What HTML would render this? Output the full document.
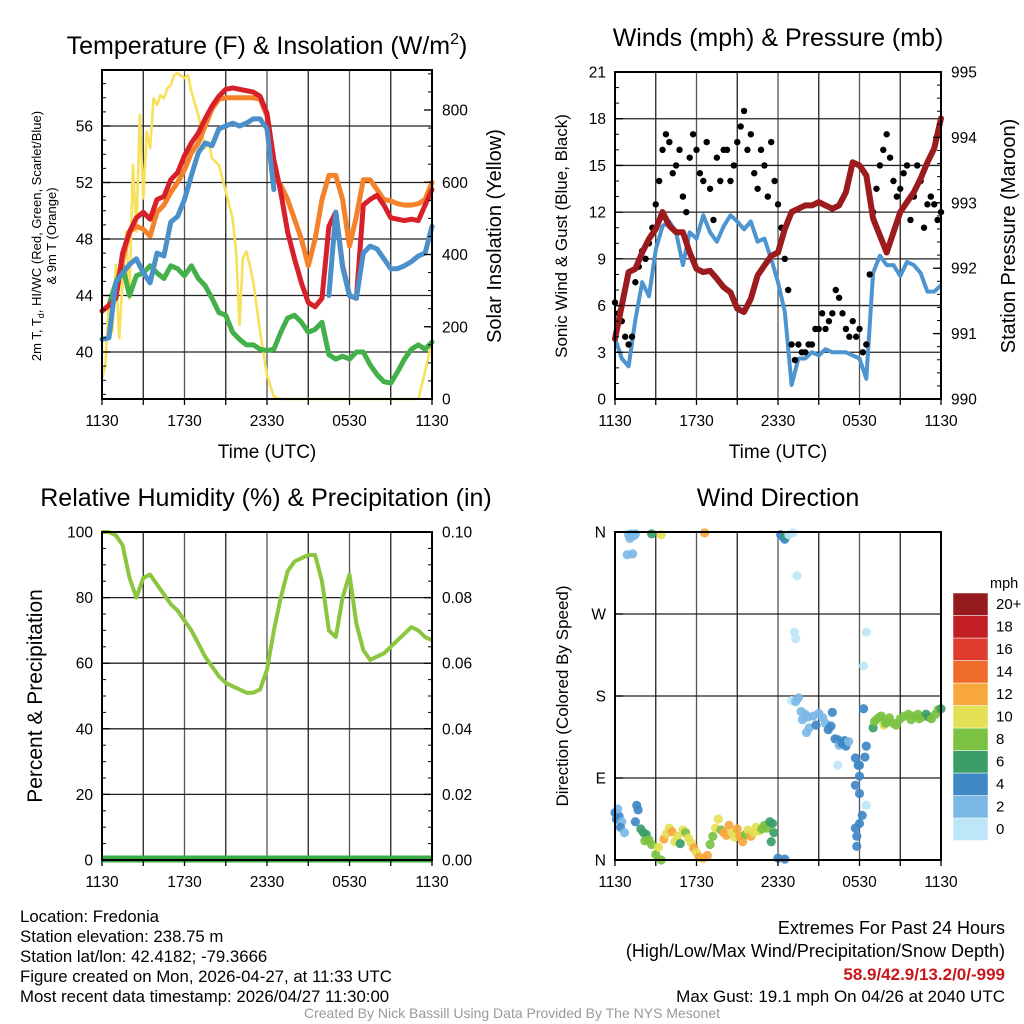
<!DOCTYPE html>
<html><head><meta charset="utf-8">
<style>
html,body{margin:0;padding:0;background:#fff;}
svg{display:block;font-family:"Liberation Sans",sans-serif;}
</style></head>
<body>
<svg id="chart" width="1024" height="1024" viewBox="0 0 1024 1024" xmlns="http://www.w3.org/2000/svg"></svg>
<script>
// ---------- DATA ----------
const timeLabels = ["1130","1730","2330","0530","1130"];
const tempRed = [42.9,43.3,43.8,47,48.5,49.5,49.9,49.4,50.8,51,52.2,52.7,53.9,54.8,55.5,56.5,57.4,58.1,58.6,58.7,58.6,58.5,58.4,58.1,56.9,53.6,51.3,48.5,46.6,44.9,43.5,43.2,43.8,48.9,49.9,46.1,44,43.8,50.4,50.8,51.1,50.4,49.5,49.4,49.3,49.4,49.3,50.4,51.5];
const tempOrange = [42.9,43.3,43.8,46.5,48.5,48.9,48.7,48.2,49.9,50.4,51.3,52,52.9,54.1,54.8,56,57.2,57.9,58,58,58,58,58,57.9,56.7,52.5,51.8,50.8,49.4,48,46.1,48,50.8,52.5,52.5,50.8,47.5,49.6,52.2,52.2,51.5,50.8,50.7,50.5,50.4,50.4,50.5,50.8,52];
const tempBlue = [40.9,41,44.9,45.6,46.2,46.6,45.6,44.9,47,46.8,49.2,49.6,50.8,52.5,54.1,54.8,54.6,55.8,56,56.2,56,56.2,56.5,56.5,55.8,51.5,null,null,null,null,null,null,null,44,49.9,46,44,43.8,47,47.5,47.3,46.6,45.9,45.9,46.1,46.4,46.8,47,48.9];
const tempGreen = [42.9,43.3,44.9,46.1,44,45.4,45.6,46.1,45.6,45.2,46.1,45.9,45.4,46.1,45.2,44.7,43.8,42.8,42.6,41.4,40.9,40.5,40.5,40.2,40.1,40.2,41.4,42.4,42.6,42.1,41.4,41.6,42.1,39.8,39.5,39.7,39.5,40,40,39.1,38.4,37.9,37.8,38.6,39.5,40.2,40.5,40.2,40.7];
const insolTimes = [0,0.25,0.5,0.75,1,1.25,1.5,1.75,2,2.25,2.5,2.75,3,3.25,3.5,3.75,4,4.25,4.5,4.75,5,5.25,5.5,6,6.25,6.5,7,7.25,7.5,7.75,8,8.5,9,9.5,9.75,10,10.25,10.5,10.75,11,11.5,12,12.5,13,23,23.5,24];
const insolation = [57,94,277,185,371,168,325,463,277,648,463,786,555,740,694,832,814,841,832,860,869,897,902,888,897,851,786,740,694,712,666,648,574,500,408,205,390,408,371,324,186,66,6,0,0,76,159];
const windSpeed = [3.9,2.6,2.1,5.1,7.5,6.6,9.6,11.1,11.4,10.7,8.6,10.7,10.3,11.8,10.7,10.1,11.1,11.8,11.4,10.9,11.4,10.1,10.3,9.0,7.5,5.6,0.9,2.6,2.6,3.0,2.8,3.2,3.0,3.0,3.0,2.8,2.6,1.3,8.1,9.2,8.6,8.6,7.9,8.8,8.6,8.1,6.9,6.9,7.3];
const pressure = [990.92,991.43,991.94,991.99,992.24,992.45,992.6,992.86,992.65,992.55,992.55,992.24,991.99,991.94,991.96,991.84,991.71,991.63,991.38,991.33,991.53,991.89,992.04,992.19,992.24,992.6,992.86,992.91,992.96,992.96,993.01,992.96,992.91,992.96,993.16,993.62,993.57,993.42,992.76,992.5,992.24,992.55,992.86,993.01,993.16,993.37,993.62,993.83,994.29];
const gustTimes = [0,0.25,0.5,0.75,1,1.25,1.5,1.75,2,2.25,2.5,2.75,3,3.25,3.5,3.75,4,4.25,4.5,4.75,5,5.25,5.5,5.75,6,6.25,6.5,6.75,7,7.25,7.5,7.75,8,8.25,8.5,8.75,9,9.25,9.5,9.75,10,10.25,10.5,10.75,11,11.25,11.5,11.75,12,12.25,12.5,12.75,13,13.25,13.5,13.75,14,14.25,14.5,14.75,15,15.25,15.5,15.75,16,16.25,16.5,16.75,17,17.25,17.5,17.75,18,18.25,18.5,18.75,19,19.25,19.5,19.75,20,20.25,20.5,20.75,21,21.25,21.5,21.75,22,22.25,22.5,22.75,23,23.25,23.5,23.75,24];
const gusts = [6.2,5.5,5,4,3.5,4,7.5,8.5,9.5,9,10,11,12.5,14,16,17,16.5,14.5,15,16,13,12,15.5,17,16,14.5,14,16.5,13.5,11.5,15.5,14,16,16,14,15,16.5,17.5,18.5,16,17,14.5,13.5,16,15,13,16.5,14,12.5,11,9,7,3.5,2.5,3.5,3,3,3.5,3.5,4.5,4.5,5.5,4.5,5,5.5,7,6.5,5.5,4.5,4,5,4,4.5,3,3.5,8,12,13.5,15,16,17,15.5,14,13,13.5,14.5,15,11.5,13,15,14,11,12.5,13,12.5,11.5,12];
const rh = [100,100,99,96,86,80,86,87,84,81,78,76,73,70,66,62,59,56,54,53,52,51,51,52,58,70,80,88,91,92,93,93,85,70,68,80,87,72,64,61,62,63,65,67,69,71,70,68,67];
const dirTimes = [0,0.1,0.3,0.5,0.4,0.7,0.2,1.6,1.7,1.5,1.0,1.2,1.4,1.1,0.9,1.3,1.5,2.7,3.4,6.6,1.9,2.1,2.3,2.2,2.5,2.7,3.0,3.2,3.4,3.6,3.8,4.0,4.2,4.4,4.6,4.8,5.0,5.2,5.4,5.6,5.8,6.0,6.2,6.5,6.8,7.0,7.2,7.4,7.6,7.8,8.0,8.2,8.4,8.6,8.8,9.0,9.2,9.4,9.6,9.8,10.0,10.2,10.4,10.6,10.8,11.0,11.2,11.4,11.6,11.7,11.5,12.0,12.5,12.2,12.4,12.5,12.6,12.8,13.1,13.4,13.2,13.3,13.0,13.3,13.5,13.7,13.8,14.0,14.2,14.3,14.1,14.6,14.8,15.0,15.3,15.5,15.7,16.0,15.9,16.2,16.4,16.5,16.7,16.9,17.0,16.4,17.2,17.9,17.7,18.0,18.0,17.7,18.0,18.2,18.0,17.7,17.8,17.8,18.5,18.5,18.3,18.3,18.5,18.4,19.0,19.1,19.3,19.5,19.8,19.9,20.2,20.5,20.7,21.0,21.3,21.6,22.0,22.3,22.6,22.9,23.1,23.3,23.6,23.8,24.0,22.4,21.8,20.0,19.6];
const dirDeg = [52,45,48,42,36,30,56,60,55,42,357,358,356,353,335,336,358,358,357,359,34,30,28,21,22,17,6,14,0,23,29,35,31,20,26,18,33,30,24,19,13,8,3,2,5,17,26,35,45,33,30,27,38,30,25,34,26,20,28,33,26,30,36,32,34,38,35,42,40,30,20,2,1,357,354,352,356,357,359,312,250,243,175,174,178,163,154,160,157,145,140,158,148,161,156,150,143,162,147,133,132,126,128,131,125,104,130,104,112,104,92,82,73,49,40,35,26,15,60,250,213,166,125,113,145,152,155,157,148,150,156,150,148,155,158,160,158,160,157,160,157,155,160,165,166,155,154,151,158];
const dirSpeed = [4,4,4,3,4,2,3,4,4,4,2,2,2,2,2,2,2,7,10,12,6,6,7,8,8,8,9,10,9,12,11,10,12,10,11,7,10,8,10,10,12,10,12,13,12,8,9,10,10,8,12,12,12,11,10,12,12,12,9,10,12,10,10,10,9,8,9,7,6,6,6,4,4,4,4,5,6,1,1,1,1,1,1,2,3,3,3,3,3,2,2,3,4,3,3,3,4,5,5,4,5,3,4,4,5,1,3,4,4,4,4,4,4,4,4,4,4,4,1,1,1,4,5,5,6,8,8,8,10,8,8,8,8,8,8,8,8,8,8,7,7,8,8,8,7,8,8,8,8];
const speedColors = ["#bde6f8","#7bb8e6","#3f88c6","#3b9e68","#7cc242","#e4e055","#f7a73c","#ef6b2c","#e03b2f","#c21e24","#951a1d"];
const speedLabels = ["0","2","4","6","8","10","12","14","16","18","20+"];

// ---------- HELPERS ----------
const NS="http://www.w3.org/2000/svg";
const svg=document.getElementById('chart');
const TICKFS=15.5;
function el(tag,attrs,parent){const e=document.createElementNS(NS,tag);for(const k in attrs)e.setAttribute(k,attrs[k]);(parent||svg).appendChild(e);return e;}
function txt(x,y,s,size,anchor,parent,extra){const t=el('text',Object.assign({x:x,y:y,'font-size':size,'text-anchor':anchor||'middle',fill:'#000'},extra||{}),parent);t.textContent=s;return t;}
function lin(d0,d1,r0,r1){return v=>r0+(v-d0)*(r1-r0)/(d1-d0);}
function pathD(xs,ys,fx,fy){let d='',pen=false;for(let i=0;i<xs.length;i++){if(ys[i]==null){pen=false;continue;}d+=(pen?'L':'M')+fx(xs[i]).toFixed(1)+','+fy(ys[i]).toFixed(1);pen=true;}return d;}
const half=rh.map((_,i)=>i*0.5);

function frame(p){
  const g=el('g',{});
  
  
  for(let h=3;h<24;h+=3){const x=p.fx(h);const l=el('line',{x1:x,x2:x,y1:p.y0,y2:p.y1,stroke:(h%6==0)?'#555':'#222','stroke-width':1.3},g);
    
    }
  p.hgrid.forEach(v=>{const y=p.fy(v);const l=el('line',{x1:p.x0,x2:p.x1,y1:y,y2:y,stroke:'#222','stroke-width':1.3},g);
    
    });
  return g;
}
function border(p){const r=el('rect',{x:p.x0,y:p.y1,width:p.x1-p.x0,height:p.y0-p.y1,fill:'none',stroke:'#000','stroke-width':2});
  
  
  for(let h=0;h<=24;h+=3){const x=p.fx(h);el('line',{x1:x,x2:x,y1:p.y0,y2:p.y0+6,stroke:'#000','stroke-width':1.3});}
  timeLabels.forEach((s,i)=>{const t=txt(p.fx(i*6),p.y0+27,s,TICKFS,'middle');
    
    });
}
function yTicks(p,vals,labels,minor,side,fy){
  const x=side=='L'?p.x0:p.x1, dir=side=='L'?1:-1;
  minor.forEach(v=>{const y=fy(v);el('line',{x1:x,x2:x+dir*4,y1:y,y2:y,stroke:'#000','stroke-width':1});});
  vals.forEach((v,i)=>{const y=fy(v);el('line',{x1:x,x2:x+dir*8,y1:y,y2:y,stroke:'#000','stroke-width':1.3});
    const t=txt(side=='L'?x-9:x+10,y+5.5,labels[i],TICKFS,side=='L'?'end':'start');
    
    });
}
function rng(a,b,s){const r=[];for(let v=a;v<=b+1e-9;v+=s)r.push(+v.toFixed(4));return r;}

// ---------- PANEL 1 ----------
const p1={name:'temperature-panel',x0:102,x1:432,y0:399,y1:70};
p1.fx=lin(0,24,p1.x0,p1.x1);p1.fy=lin(40,56,352,126);p1.hgrid=[40,44,48,52,56];
const fyIns=lin(0,800,399,110);
frame(p1);
[[insolTimes,insolation,'#f7e05a',2.6,'insolation-line',fyIns],[half,tempGreen,'#43b04a',5,'dewpoint-line',p1.fy],[half,tempOrange,'#f4822b',5,'temp-9m-line',p1.fy],[half,tempRed,'#d7202a',5,'temp-2m-line',p1.fy],[half,tempBlue,'#4a90cb',5,'heat-index-windchill-line',p1.fy]].forEach(s=>{
  const pth=el('path',{d:pathD(s[0],s[1],p1.fx,s[5]),fill:'none',stroke:s[2],'stroke-width':s[3],'stroke-linejoin':'round','stroke-linecap':'round'});
  
  
});
border(p1);
yTicks(p1,[40,44,48,52,56],['40','44','48','52','56'],rng(37,59,1),'L',p1.fy);
yTicks(p1,[0,200,400,600,800],['0','200','400','600','800'],rng(0,900,50),'R',fyIns);
(function(){const t=el('text',{x:267,y:54,'font-size':25,'text-anchor':'middle'});t.innerHTML='Temperature (F) &amp; Insolation (W/m<tspan dy="-10" font-size="16">2</tspan><tspan dy="10">)</tspan>';

})();
(function(){let t=txt(267,458,'Time (UTC)',19,'middle');
t=el('text',{x:0,y:0,'font-size':13,'text-anchor':'middle',transform:'translate(41,236) rotate(-90)'});t.innerHTML='2m T, T<tspan dy="3" font-size="9">d</tspan><tspan dy="-3">, HI/WC (Red, Green, Scarlet/Blue)</tspan>';

t=txt(0,0,'& 9m T (Orange)',13,'middle',null,{transform:'translate(56,236) rotate(-90)'});
t=txt(0,0,'Solar Insolation (Yellow)',20,'middle',null,{transform:'translate(501,236) rotate(-90)'});})();

// ---------- PANEL 2 ----------
const p2={name:'winds-panel',x0:615,x1:941,y0:399,y1:72};
p2.fx=lin(0,24,p2.x0,p2.x1);p2.fy=lin(0,21,399,72);p2.hgrid=[3,6,9,12,15,18];
const fyP=lin(990,995,399,72);
frame(p2);
(function(){const pth=el('path',{d:pathD(half,windSpeed,p2.fx,p2.fy),fill:'none',stroke:'#4d95d0','stroke-width':4,'stroke-linejoin':'round'});

const gg=el('g',{});
gusts.forEach((v,i)=>{const c=el('circle',{cx:p2.fx(gustTimes[i]),cy:p2.fy(v),r:3.2,fill:'#000'},gg);
  
  });
const pp=el('path',{d:pathD(half,pressure,p2.fx,fyP),fill:'none',stroke:'#9b1b1e','stroke-width':6,'stroke-linejoin':'round','stroke-linecap':'round'});
})();
border(p2);
yTicks(p2,[0,3,6,9,12,15,18,21],['0','3','6','9','12','15','18','21'],rng(0,21,1),'L',p2.fy);
yTicks(p2,[990,991,992,993,994,995],['990','991','992','993','994','995'],rng(990,995,0.2),'R',fyP);
(function(){let t=txt(778,46,'Winds (mph) & Pressure (mb)',25,'middle');
t=txt(778,458,'Time (UTC)',19,'middle');
t=txt(0,0,'Sonic Wind & Gust (Blue, Black)',17,'middle',null,{transform:'translate(567,236) rotate(-90)'});
t=txt(0,0,'Station Pressure (Maroon)',20,'middle',null,{transform:'translate(1015,236) rotate(-90)'});})();

// ---------- PANEL 3 ----------
const p3={name:'humidity-panel',x0:102,x1:432,y0:860,y1:532};
p3.fx=lin(0,24,p3.x0,p3.x1);p3.fy=lin(0,100,860,532);p3.hgrid=[20,40,60,80];
frame(p3);
(function(){const pth=el('path',{d:pathD(half,rh,p3.fx,p3.fy),fill:'none',stroke:'#8cc63f','stroke-width':4,'stroke-linejoin':'round'});

const pr=el('line',{x1:p3.x0,x2:p3.x1,y1:859,y2:859,stroke:'#3aaa48','stroke-width':7});
})();
border(p3);
const fyPr=lin(0,0.1,860,532);
yTicks(p3,[0,20,40,60,80,100],['0','20','40','60','80','100'],rng(0,100,5),'L',p3.fy);
yTicks(p3,[0,0.02,0.04,0.06,0.08,0.1],['0.00','0.02','0.04','0.06','0.08','0.10'],rng(0,0.1,0.005),'R',fyPr);
(function(){let t=txt(266,506,'Relative Humidity (%) & Precipitation (in)',25,'middle');
t=txt(0,0,'Percent & Precipitation',21,'middle',null,{transform:'translate(42,696) rotate(-90)'});})();

// ---------- PANEL 4 ----------
const p4={name:'wind-direction-panel',x0:615,x1:941,y0:860,y1:532};
p4.fx=lin(0,24,p4.x0,p4.x1);p4.fy=lin(0,360,860,532);p4.hgrid=[90,180,270];
frame(p4);
(function(){const gg=el('g',{});
dirDeg.forEach((d,i)=>{const bin=Math.min(10,Math.floor(dirSpeed[i]/2));
  const c=el('circle',{cx:p4.fx(dirTimes[i]),cy:p4.fy(d),r:4.6,fill:speedColors[bin],'fill-opacity':0.92},gg);
  
  });})();
border(p4);
yTicks(p4,[0,90,180,270,360],['N','E','S','W','N'],[],'L',p4.fy);
(function(){let t=txt(778,506,'Wind Direction',25,'middle');
t=txt(0,0,'Direction (Colored By Speed)',17,'middle',null,{transform:'translate(568,696) rotate(-90)'});
t=txt(990,588,'mph',14.5,'start');
const lg=el('g',{});
speedColors.forEach((c,i)=>{const y=593+(10-i)*22.5;
  const r=el('rect',{x:953,y:y,width:35,height:22.5,fill:c,stroke:'#fff','stroke-width':0.5},lg);
  
  
  const l=txt(996,y+16,speedLabels[i],15,'start',lg);
  
  });})();

// ---------- FOOTER TEXT ----------
(function(){const left=['Location: Fredonia','Station elevation: 238.75 m','Station lat/lon: 42.4182; -79.3666','Figure created on Mon, 2026-04-27, at 11:33 UTC','Most recent data timestamp: 2026/04/27 11:30:00'];
left.forEach((s,i)=>{const t=txt(20,922+i*20,s,16.8,'start');});
let t=txt(1005,934,'Extremes For Past 24 Hours',18,'end');
t=txt(1005,957,'(High/Low/Max Wind/Precipitation/Snow Depth)',18,'end');
t=txt(1005,980,'58.9/42.9/13.2/0/-999',17,'end',null,{fill:'#c8161d','font-weight':'bold'});
t=txt(1005,1002,'Max Gust: 19.1 mph On 04/26 at 2040 UTC',17,'end');
t=txt(512,1018,'Created By Nick Bassill Using Data Provided By The NYS Mesonet',14,'middle',null,{fill:'#999'});})();
</script>
</body></html>
